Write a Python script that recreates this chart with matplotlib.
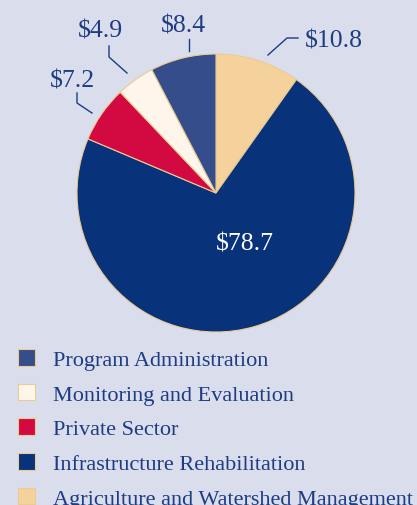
import matplotlib.pyplot as plt

# budget shares, clockwise from 12 o'clock
categories = ['Agriculture and Watershed Management', 'Infrastructure Rehabilitation',
              'Private Sector', 'Monitoring and Evaluation', 'Program Administration']
values = [10.8, 78.7, 7.2, 4.9, 8.4]
colors = ['#F5D29B', '#08327A', '#D20A41', '#FEF6EA', '#354D8B']
legend_order = [4, 3, 2, 1, 0]

bg = '#DADDEB'
txt = '#1E3C84'
edge = '#EBCB92'
W, H = 417, 506

plt.rcParams['font.family'] = ['Liberation Serif', 'DejaVu Serif']

fig = plt.figure(figsize=(W / 100, H / 100), dpi=100, facecolor=bg)
ax = fig.add_axes([0, 0, 1, 1])
ax.set_facecolor(bg)
ax.set_xlim(0, W)
ax.set_ylim(0, H)
ax.set_aspect('equal')
ax.axis('off')

wedges, _ = ax.pie(values, colors=colors, startangle=90, counterclock=False,
                   center=(216, H - 194), radius=139,
                   wedgeprops=dict(edgecolor=edge, linewidth=0.8))
ax.set_xlim(0, W)
ax.set_ylim(0, H)

# value labels with leader lines
fs = 18.5
lab = [f'${v}' for v in values]
ax.text(245, H - 245, lab[1], color='white', fontsize=fs, ha='center', va='center')
ax.text(334, H - 41, lab[0], color=txt, fontsize=fs, ha='center', va='center')
ax.plot([268, 287, 298], [H - 56, H - 39, H - 39], color=txt, lw=1)
ax.text(183, H - 26, lab[4], color=txt, fontsize=fs, ha='center', va='center')
ax.plot([189, 189], [H - 40, H - 52], color=txt, lw=1)
ax.text(100, H - 31, lab[3], color=txt, fontsize=fs, ha='center', va='center')
ax.plot([109, 109, 127], [H - 47, H - 58, H - 74], color=txt, lw=1)
ax.text(72, H - 81, lab[2], color=txt, fontsize=fs, ha='center', va='center')
ax.plot([77, 77, 92], [H - 94, H - 104, H - 114], color=txt, lw=1)

handles = [wedges[i] for i in legend_order]
labels = [categories[i] for i in legend_order]
leg = ax.legend(handles, labels, loc='upper left', bbox_to_anchor=(18 / W, 1 - 350 / H),
                bbox_transform=fig.transFigure, frameon=False, fontsize=16,
                handlelength=0.78, handleheight=0.78, handletextpad=0.8,
                labelspacing=0.61, borderpad=0, borderaxespad=0)
for t in leg.get_texts():
    t.set_color(txt)

fig.savefig('out.png', dpi=100, facecolor=bg)
